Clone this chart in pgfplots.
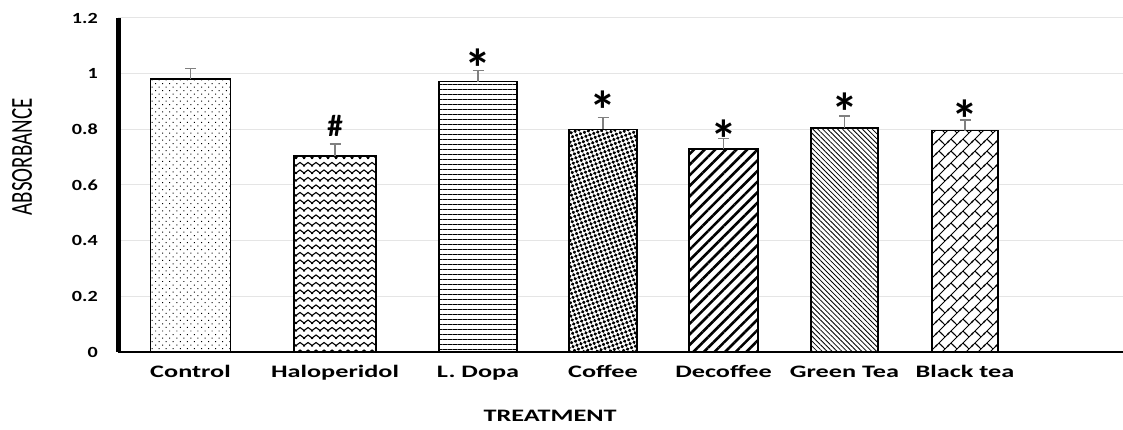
\documentclass[border=0pt]{standalone}
\usepackage{pgfplots}
\pgfplotsset{compat=1.18}
\usepackage{fontspec}
\setmainfont{Carlito}
\newfontfamily\wide[FakeStretch=1.5]{Carlito}
\newfontfamily\tickf[FakeStretch=1.3]{Carlito}
\usetikzlibrary{patterns,patterns.meta}

% wavy rows for Haloperidol
\pgfdeclarepatternformonly{zz}{\pgfpoint{-1pt}{0pt}}{\pgfpoint{9pt}{7.5pt}}{\pgfpoint{8pt}{7.5pt}}{%
  \pgfsetlinewidth{1.1pt}
  \pgfpathmoveto{\pgfpoint{-1pt}{1.25pt}}
  \pgfpathlineto{\pgfpoint{0pt}{2pt}}
  \pgfpathlineto{\pgfpoint{4pt}{5pt}}
  \pgfpathlineto{\pgfpoint{8pt}{2pt}}
  \pgfpathlineto{\pgfpoint{9pt}{1.25pt}}
  \pgfusepath{stroke}}

% diagonal bricks for Black tea
\pgfdeclarepatternformonly{dbricks}{\pgfpoint{-1pt}{-1pt}}{\pgfpoint{13pt}{13pt}}{\pgfpoint{12pt}{12pt}}{%
  \pgfsetlinewidth{0.9pt}
  \pgfpathmoveto{\pgfpoint{-1pt}{-1pt}}\pgfpathlineto{\pgfpoint{13pt}{13pt}}
  \pgfpathmoveto{\pgfpoint{11pt}{-1pt}}\pgfpathlineto{\pgfpoint{13pt}{1pt}}
  \pgfpathmoveto{\pgfpoint{-1pt}{11pt}}\pgfpathlineto{\pgfpoint{1pt}{13pt}}
  \pgfpathmoveto{\pgfpoint{9pt}{9pt}}\pgfpathlineto{\pgfpoint{3pt}{15pt}}
  \pgfpathmoveto{\pgfpoint{9pt}{-3pt}}\pgfpathlineto{\pgfpoint{3pt}{3pt}}
  \pgfusepath{stroke}}

\begin{document}
\begin{tikzpicture}[x=1pt,y=1pt]
\path[use as bounding box] (0,0) rectangle (1123,430);
\begin{axis}[
  at={(118pt,78pt)}, anchor=south west,
  scale only axis, width=1005pt, height=334pt,
  xmin=118, xmax=1123, ymin=0, ymax=1.2,
  ybar,
  axis x line*=bottom, axis y line*=left,
  x axis line style={line width=2.5pt, black},
  y axis line style={line width=5pt, black},
  major tick length=0pt,
  ytick={0,0.2,0.4,0.6,0.8,1,1.2},
  yticklabels={0,0.2,0.4,0.6,0.8,1,1.2},
  ymajorgrids, grid style={black!10, line width=1pt},
  xtick={190.5,335,478,603,723.5,844.5,965},
  xticklabels={Control,Haloperidol,L. Dopa,Coffee,Decoffee,Green Tea,Black tea},
  xticklabel style={anchor=base, inner sep=0pt, yshift=-25.7pt,
    font=\wide\bfseries\fontsize{17.5}{18}\selectfont},
  yticklabel style={anchor=east, inner sep=0pt, xshift=-20pt,
    font=\tickf\bfseries\fontsize{15.5}{16}\selectfont},
  xlabel={TREATMENT},
  xlabel style={at={(axis description cs:0.43,0)}, anchor=base, inner sep=0pt,
    yshift=-70pt, font=\wide\bfseries\fontsize{17.5}{18}\selectfont},
  ylabel={\scalebox{1}[1.45]{ABSORBANCE}},
  ylabel style={at={(axis description cs:-0.0955,0.584)}, anchor=center,
    inner sep=0pt, font=\fontsize{21}{21}\selectfont},
  bb/.style={preaction={fill=white}, draw=black, line width=1.2pt, bar shift=0pt,
    error bars/y dir=plus, error bars/y explicit,
    error bars/error bar style={draw=black!50, line width=1.3pt},
    error bars/error mark options={rotate=90, mark size=5.5pt, draw=black!50, line width=1.3pt}},
  ann/.style n args={3}{nodes near coords={#1},
    every node near coord/.style={anchor=north, inner sep=0pt, yshift=#2,
      text=black, fill=none, draw=none,
      font=\bfseries\fontsize{#3}{#3}\selectfont}},
]
\addplot[bb, bar width=80, pattern={Dots[distance=5pt,radius=0.7pt,angle=45]}]
  coordinates {(190.5,0.981) +- (0,0.038)};
\addplot[bb, bar width=82, pattern=zz, ann={\#}{41.3pt}{31}]
  coordinates {(335,0.704) +- (0,0.043)};
\addplot[bb, bar width=78, pattern={Lines[angle=0,distance=5pt,line width=1pt]}, ann={*}{33.2pt}{54}]
  coordinates {(478,0.971) +- (0,0.040)};
\addplot[bb, bar width=68, pattern={Dots[distance=4.2pt,radius=1.8pt,angle=20]}, ann={*}{38.8pt}{54}]
  coordinates {(603,0.800) +- (0,0.043)};
\addplot[bb, bar width=69, pattern={Lines[angle=45,distance=7.5pt,line width=2.6pt]}, ann={*}{29.5pt}{54}]
  coordinates {(723.5,0.729) +- (0,0.038)};
\addplot[bb, bar width=67, pattern={Lines[angle=-45,distance=3.5pt,line width=0.8pt]}, ann={*}{35.5pt}{54}]
  coordinates {(844.5,0.805) +- (0,0.043)};
\addplot[bb, bar width=66, pattern=dbricks, ann={*}{31.2pt}{54}]
  coordinates {(965,0.795) +- (0,0.039)};
\end{axis}
\end{tikzpicture}
\end{document}
